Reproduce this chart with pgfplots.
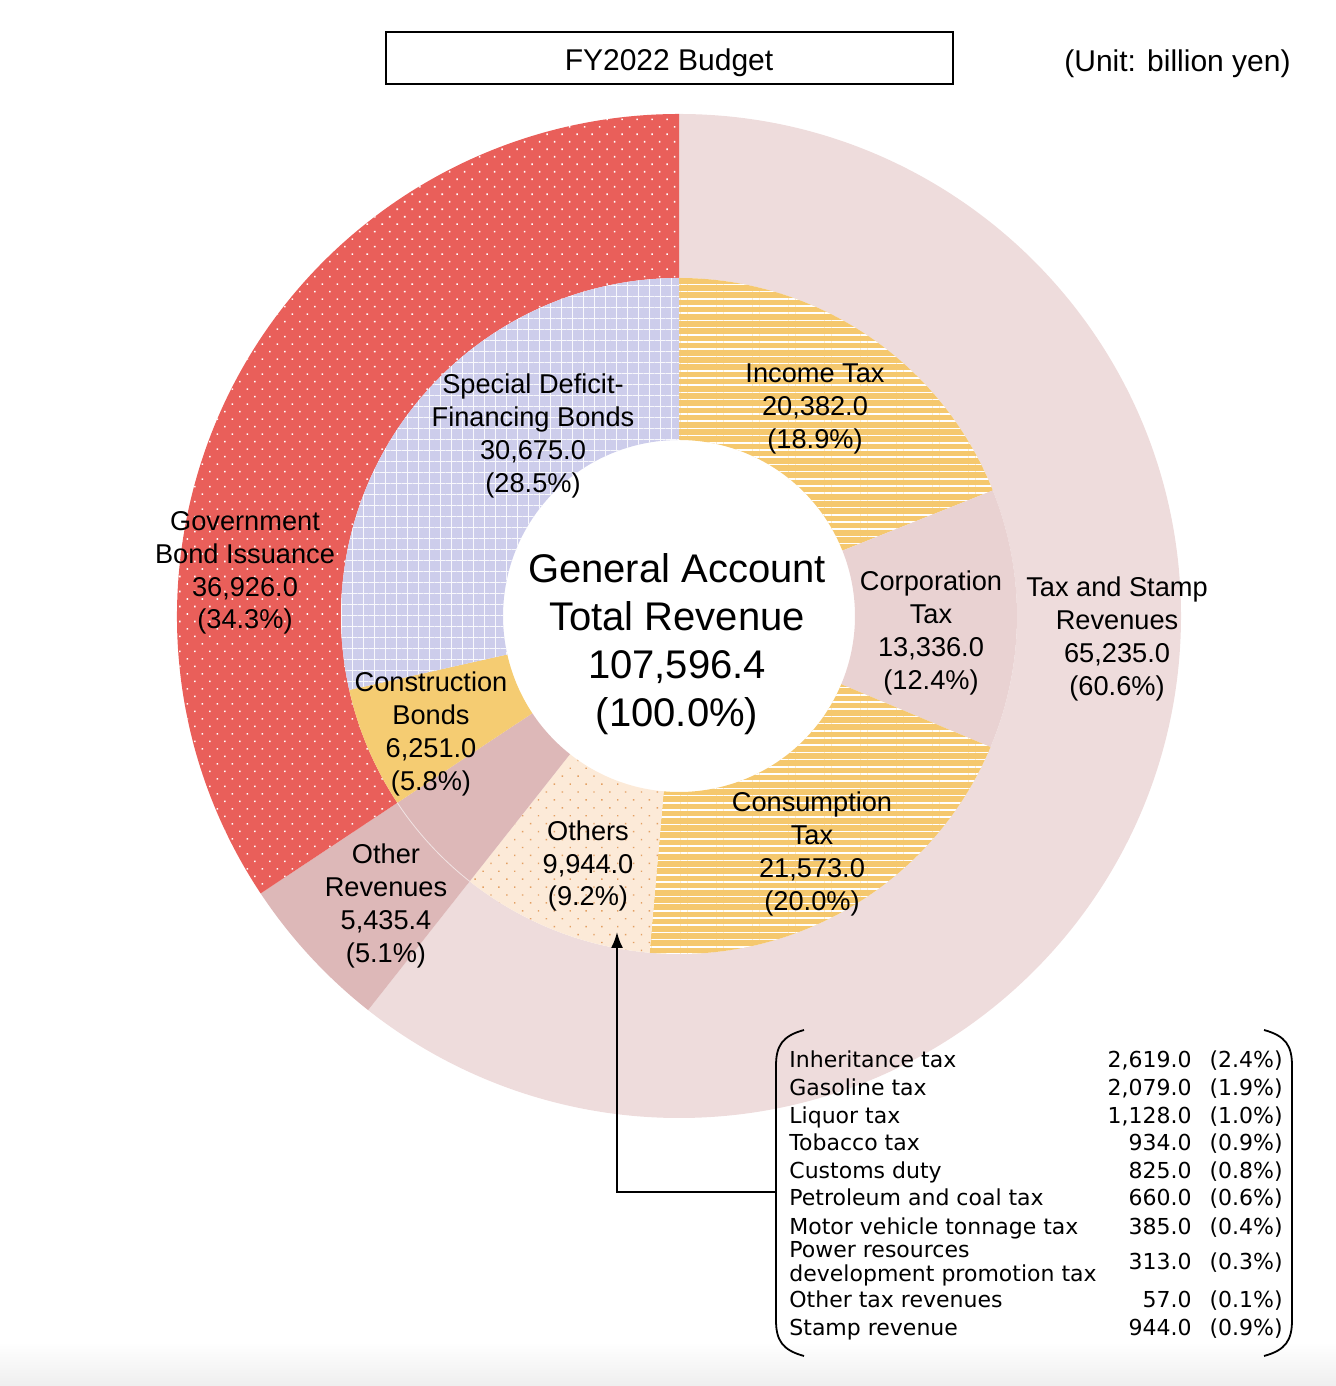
\documentclass[border=0pt]{standalone}
\usepackage{pgfplots}
\pgfplotsset{compat=1.18}
\usepackage{fontspec}
\setmainfont{Liberation Sans}
\newfontfamily\tabfont{DejaVu Sans}
\usetikzlibrary{patterns.meta,arrows.meta}

\definecolor{cTax}{HTML}{EEDCDC}
\definecolor{cOR}{HTML}{DDB8B8}
\definecolor{cRed}{HTML}{E95F5A}
\definecolor{cYel}{HTML}{F5C86E}
\definecolor{cCorp}{HTML}{E9D2D2}
\definecolor{cPeach}{HTML}{FCEAD8}
\definecolor{cDot}{HTML}{E3A063}
\definecolor{cConstr}{HTML}{F5CC72}
\definecolor{cLav}{HTML}{CDCDEB}

% values (billion yen)
\def\vIncome{20382.0}
\def\vCorp{13336.0}
\def\vCons{21573.0}
\def\vOthers{9944.0}
\def\vOtherRev{5435.4}
\def\vConstr{6251.0}
\def\vSpecial{30675.0}
\def\vTax{65235.0}
\def\vBond{36926.0}
\edef\T{\fpeval{\vTax+\vOtherRev+\vBond}}
\newcommand\ang[1]{\fpeval{round(90-360*(#1)/\T,4)}}
% outer ring angles
\edef\oA{\ang{0}}
\edef\oB{\ang{\vTax}}
\edef\oC{\ang{\vTax+\vOtherRev}}
\edef\oD{\ang{\vTax+\vOtherRev+\vBond}}
% inner ring angles
\edef\iA{\ang{0}}
\edef\iB{\ang{\vIncome}}
\edef\iC{\ang{\vIncome+\vCorp}}
\edef\iD{\ang{\vIncome+\vCorp+\vCons}}
\edef\iE{\ang{\vIncome+\vCorp+\vCons+\vOthers}}
\edef\iF{\ang{\vIncome+\vCorp+\vCons+\vOthers+\vOtherRev}}
\edef\iG{\ang{\vIncome+\vCorp+\vCons+\vOthers+\vOtherRev+\vConstr}}
\edef\iH{\ang{\vIncome+\vCorp+\vCons+\vOthers+\vOtherRev+\vConstr+\vSpecial}}

\def\Rin{88}
\def\Rmid{169}
\def\Rout{251}

% #1 style, #2 start angle, #3 end angle, #4 inner radius (pt), #5 outer radius (pt)
\newcommand\sector[5]{%
  \fill[#1] (axis cs:679,770) ++({#2}:#5pt) arc[start angle={#2}, end angle={#3}, radius=#5pt]
    -- ++({#3}:{#4pt-#5pt}) arc[start angle={#3}, end angle={#2}, radius=#4pt] -- cycle;}

\tikzset{
  seglab/.style={align=center, inner sep=0pt, font=\fontsize{13.6}{16.4}\selectfont},
  tabl/.style={inner sep=0pt, anchor=mid west, font=\tabfont\fontsize{11}{13}\selectfont},
  tabr/.style={inner sep=0pt, anchor=mid east, font=\tabfont\fontsize{11}{13}\selectfont},
}

\begin{document}
\begin{tikzpicture}
\begin{axis}[
  x=0.5pt, y=0.5pt,
  xmin=0, xmax=1336, ymin=0, ymax=1386,
  hide axis, clip=false,
]
\path (axis cs:0,0) rectangle (axis cs:1336,1386);
\shade[top color=white, bottom color=gray!13] (axis cs:0,0) rectangle (axis cs:1336,44);

% outer ring
\sector{cTax}{\oA}{\oB}{\Rmid}{\Rout}
\sector{cOR}{\oB}{\oC}{\Rmid}{\Rout}
\sector{cRed, postaction={pattern={Dots[angle=45,distance=5.3pt,radius=0.55pt]}, pattern color=white}}{\oC}{\oD}{\Rmid}{\Rout}

% inner ring
\sector{cYel, postaction={pattern={Lines[angle=0,distance=3.6pt,line width=0.85pt]}, pattern color=white}}{\iA}{\iB}{\Rin}{\Rmid}
\sector{cCorp}{\iB}{\iC}{\Rin}{\Rmid}
\sector{cYel, postaction={pattern={Lines[angle=0,distance=3.6pt,line width=0.85pt]}, pattern color=white}}{\iC}{\iD}{\Rin}{\Rmid}
\sector{cPeach, postaction={pattern={Dots[angle=45,distance=5.6pt,radius=0.5pt]}, pattern color=cDot}}{\iD}{\iE}{\Rin}{\Rmid}
\sector{cOR}{\iE}{\iF}{\Rin}{\Rmid}
\sector{cConstr}{\iF}{\iG}{\Rin}{\Rmid}
\sector{cLav, postaction={pattern={Hatch[distance=5.5pt,line width=0.5pt]}, pattern color=white!85!cLav}}{\iG}{\iH}{\Rin}{\Rmid}
\draw[white!60!cOR, line width=0.4pt] (axis cs:679,770) ++({\iE}:\Rmid pt) arc[start angle={\iE}, end angle={\iF}, radius=\Rmid pt];

% title
\draw[line width=0.75pt] (axis cs:386,1354) rectangle (axis cs:953,1302);
\node[font=\fontsize{15}{18}\selectfont] at (axis cs:669,1323) {FY2022 Budget};
\node[font=\fontsize{15}{18}\selectfont, anchor=east, inner sep=0pt] at (axis cs:1291,1322) {(Unit: billion yen)};

% centre
\node[align=center, inner sep=0pt, font=\fontsize{20}{24}\selectfont] at (axis cs:677,742)
  {General Account\\Total Revenue\\107,596.4\\(100.0\%)};

% segment labels
\node[seglab] at (axis cs:533,950) {Special Deficit-\\Financing Bonds\\30,675.0\\(28.5\%)};
\node[seglab] at (axis cs:815,977) {Income Tax\\20,382.0\\(18.9\%)};
\node[seglab] at (axis cs:931,753) {Corporation\\Tax\\13,336.0\\(12.4\%)};
\node[seglab] at (axis cs:1117,747) {Tax and Stamp\\Revenues\\65,235.0\\(60.6\%)};
\node[seglab] at (axis cs:245,813) {Government\\Bond Issuance\\36,926.0\\(34.3\%)};
\node[seglab] at (axis cs:431,652) {Construction\\Bonds\\6,251.0\\(5.8\%)};
\node[seglab] at (axis cs:386,480) {Other\\Revenues\\5,435.4\\(5.1\%)};
\node[seglab] at (axis cs:588,520) {Others\\9,944.0\\(9.2\%)};
\node[seglab] at (axis cs:812,532) {Consumption\\Tax\\21,573.0\\(20.0\%)};

% callout
\draw[line width=1pt, -{Latex[length=8pt,width=6pt]}] (axis cs:776,194) -- (axis cs:617,194) -- (axis cs:617,454);
\draw[line width=0.9pt] (axis cs:804,356) .. controls (axis cs:782,350) and (axis cs:776,340) .. (axis cs:776,320)
  -- (axis cs:776,66) .. controls (axis cs:776,46) and (axis cs:782,36) .. (axis cs:804,30);
\draw[line width=0.9pt] (axis cs:1264,356) .. controls (axis cs:1286,350) and (axis cs:1292,340) .. (axis cs:1292,320)
  -- (axis cs:1292,66) .. controls (axis cs:1292,46) and (axis cs:1286,36) .. (axis cs:1264,30);

% table
\node[tabl] at (axis cs:789,324) {Inheritance tax};
\node[tabl] at (axis cs:789,296) {Gasoline tax};
\node[tabl] at (axis cs:789,268) {Liquor tax};
\node[tabl] at (axis cs:789,241) {Tobacco tax};
\node[tabl] at (axis cs:789,213) {Customs duty};
\node[tabl] at (axis cs:789,186) {Petroleum and coal tax};
\node[tabl] at (axis cs:789,157) {Motor vehicle tonnage tax};
\node[inner sep=0pt, anchor=west, align=left, font=\tabfont\fontsize{11}{12}\selectfont] at (axis cs:789,122) {Power resources\\development promotion tax};
\node[tabl] at (axis cs:789,84) {Other tax revenues};
\node[tabl] at (axis cs:789,56) {Stamp revenue};

\node[tabr] at (axis cs:1192,324) {2,619.0};
\node[tabr] at (axis cs:1192,296) {2,079.0};
\node[tabr] at (axis cs:1192,268) {1,128.0};
\node[tabr] at (axis cs:1192,241) {934.0};
\node[tabr] at (axis cs:1192,213) {825.0};
\node[tabr] at (axis cs:1192,186) {660.0};
\node[tabr] at (axis cs:1192,157) {385.0};
\node[tabr] at (axis cs:1192,122) {313.0};
\node[tabr] at (axis cs:1192,84) {57.0};
\node[tabr] at (axis cs:1192,56) {944.0};

\node[tabr] at (axis cs:1283,324) {(2.4\%)};
\node[tabr] at (axis cs:1283,296) {(1.9\%)};
\node[tabr] at (axis cs:1283,268) {(1.0\%)};
\node[tabr] at (axis cs:1283,241) {(0.9\%)};
\node[tabr] at (axis cs:1283,213) {(0.8\%)};
\node[tabr] at (axis cs:1283,186) {(0.6\%)};
\node[tabr] at (axis cs:1283,157) {(0.4\%)};
\node[tabr] at (axis cs:1283,122) {(0.3\%)};
\node[tabr] at (axis cs:1283,84) {(0.1\%)};
\node[tabr] at (axis cs:1283,56) {(0.9\%)};
\end{axis}
\end{tikzpicture}
\end{document}
